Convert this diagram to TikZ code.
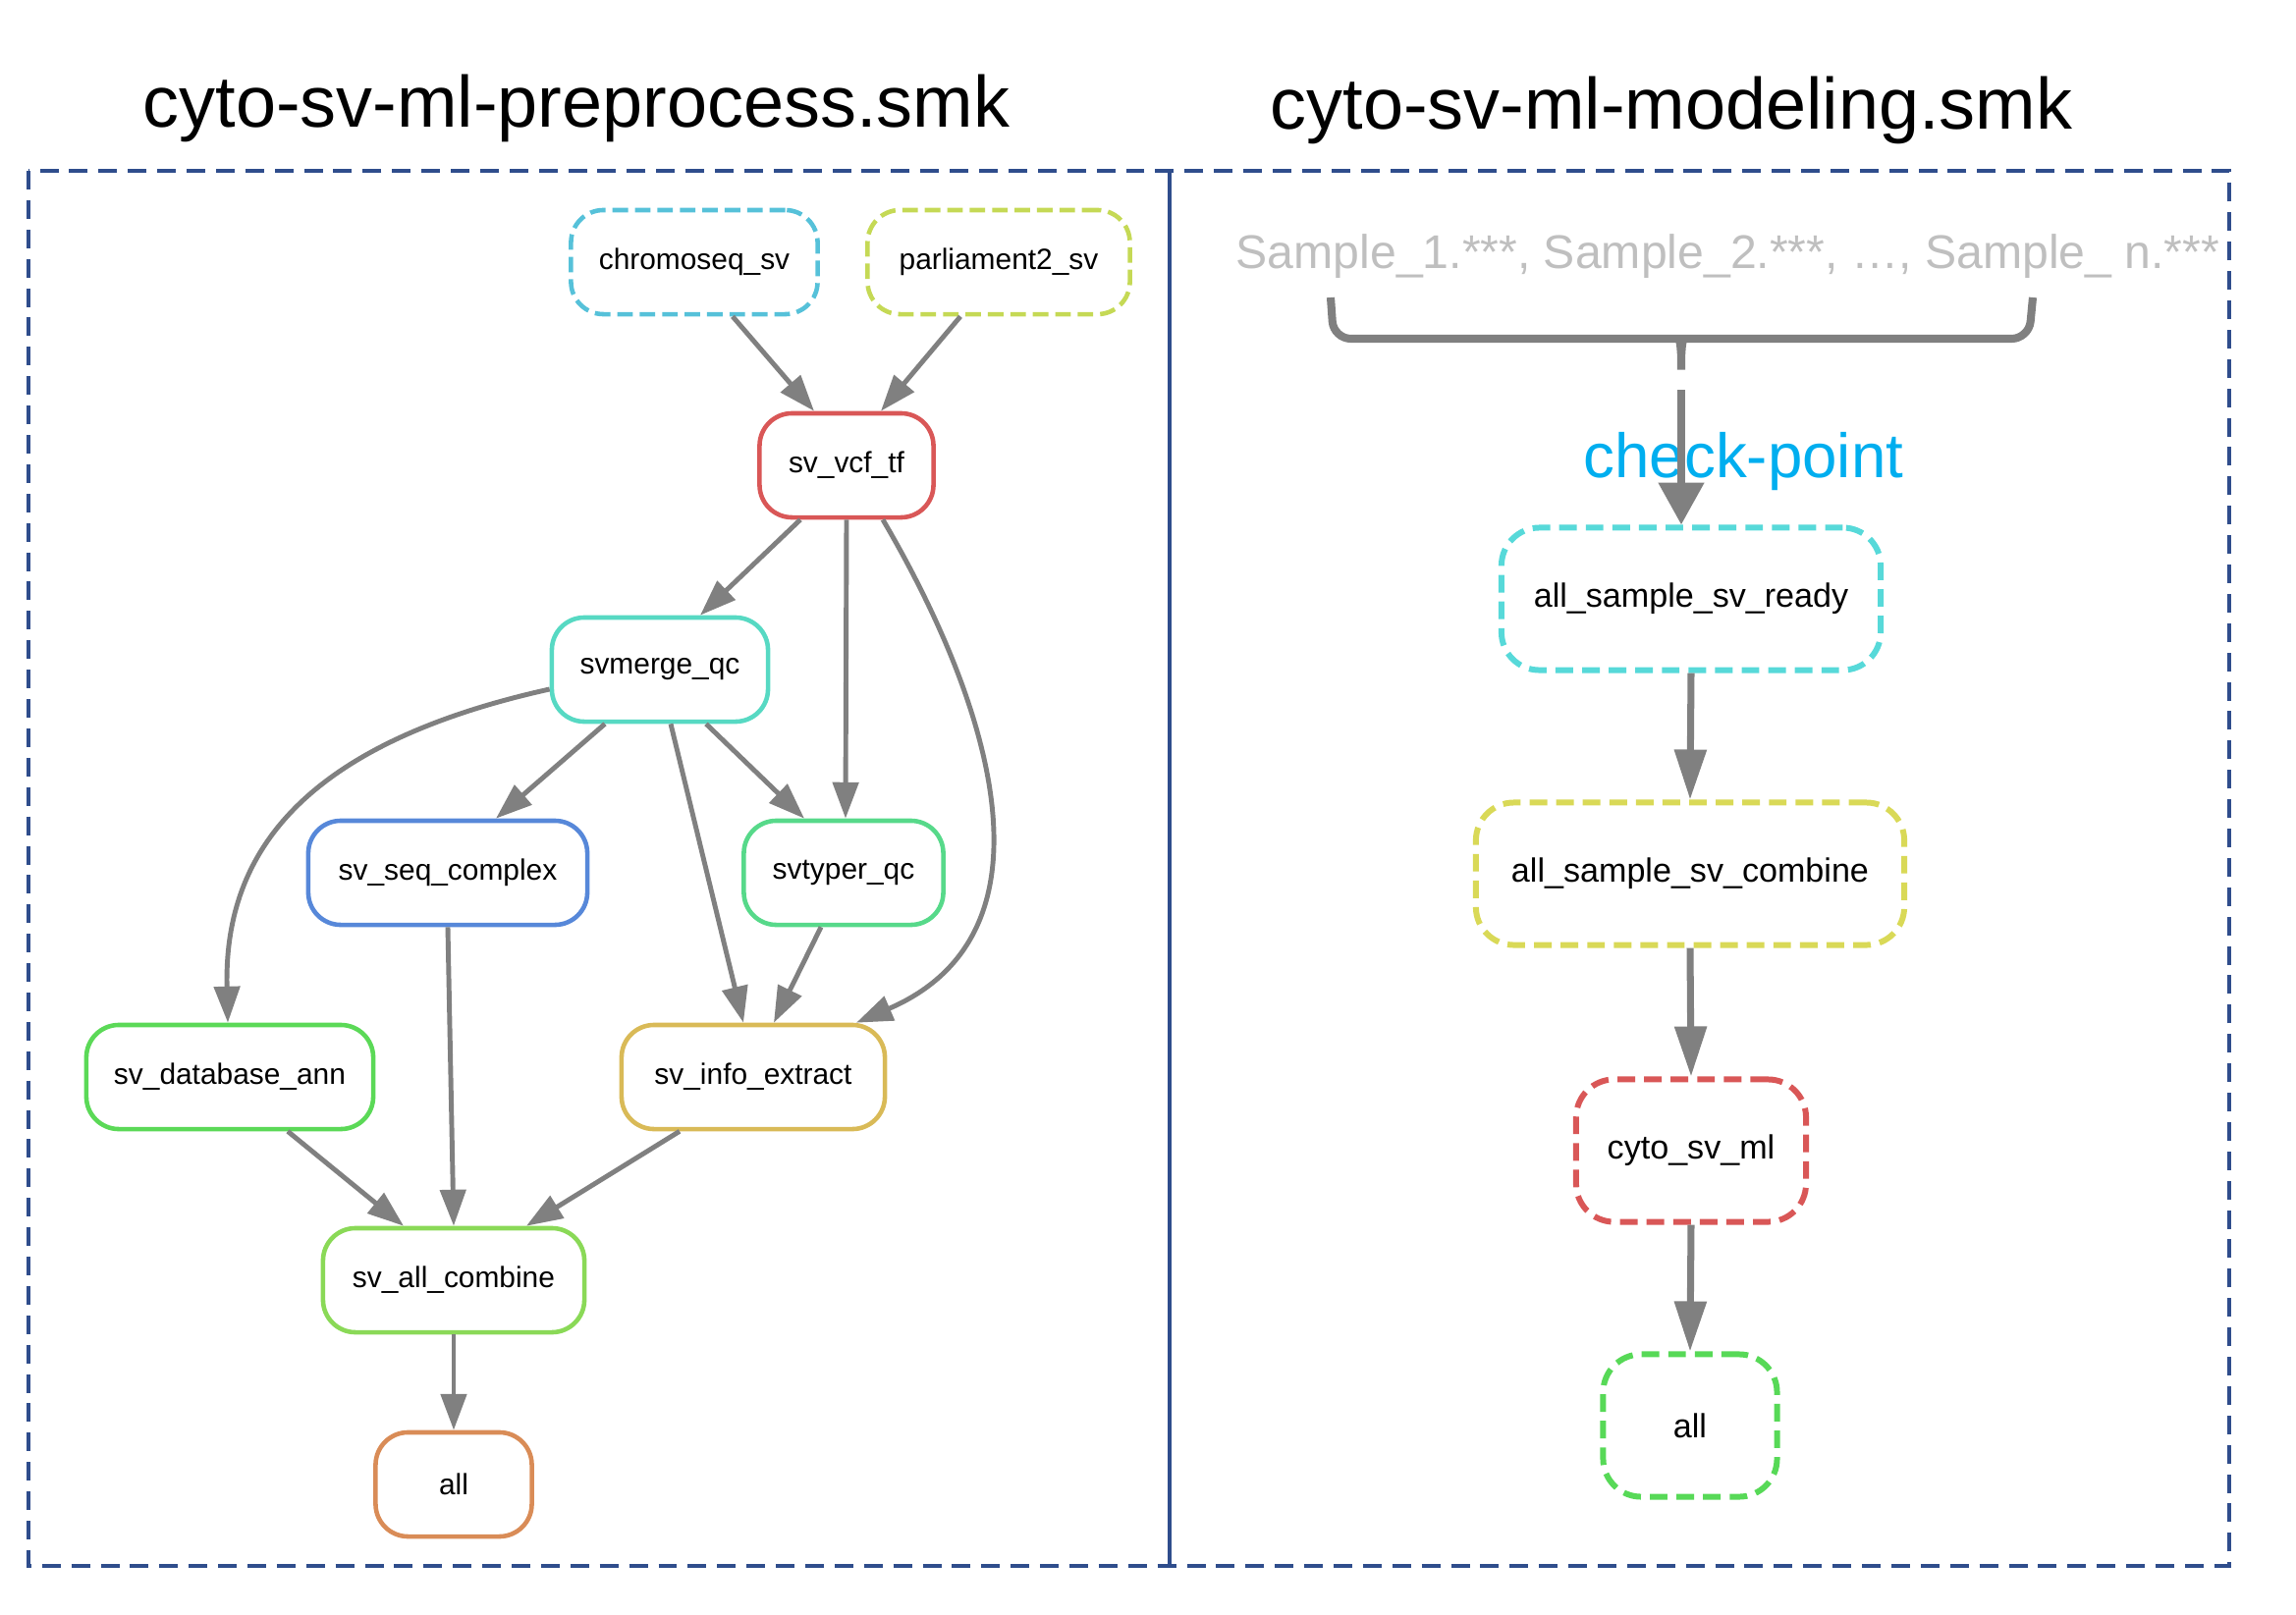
\documentclass[tikz,border=0pt]{standalone}
\usepackage{fontspec}
\setmainfont{Liberation Sans}
\usepackage{tikz}
\usetikzlibrary{arrows.meta,calc,shapes}
\usepackage{xcolor}
\definecolor{boxblue}{HTML}{2F4D8C}
\definecolor{cchromo}{HTML}{56C1D9}
\definecolor{cparl}{HTML}{C5D955}
\definecolor{cvcf}{HTML}{D95757}
\definecolor{cmerge}{HTML}{57D9C3}
\definecolor{cseq}{HTML}{5788D9}
\definecolor{ctyper}{HTML}{57D98A}
\definecolor{cdb}{HTML}{5BD957}
\definecolor{cinfo}{HTML}{D9BA57}
\definecolor{ccomb}{HTML}{8AD957}
\definecolor{call}{HTML}{D98C57}
\definecolor{cready}{HTML}{57D9D9}
\definecolor{cjoin}{HTML}{D9D957}
\definecolor{ccyto}{HTML}{D95757}
\definecolor{cend}{HTML}{57D957}
\definecolor{cpoint}{HTML}{00AEEF}
\begin{document}
\begin{tikzpicture}[-, x=0.01cm, y=-0.01cm, main node/.style={rectangle, rounded corners=9.4pt, draw, line width=1.3pt, inner sep=0pt, minimum height=1.06cm, font=\fontsize{8.5}{10}\selectfont}, dash node/.style={main node, dash pattern=on 4.5pt off 2pt}, job node/.style={rectangle, rounded corners=11pt, draw, line width=1.7pt, dash pattern=on 5.1pt off 2.6pt, inner sep=0pt, minimum height=1.45cm, font=\fontsize{9.7}{11}\selectfont}, edge line/.style={draw=gray, fill=gray, line width=1.4pt, -{Triangle[length=10.5pt,width=7.4pt]}}, job line/.style={draw=gray, fill=gray, line width=2pt, -{Triangle[length=14.5pt,width=9pt]}}, title/.style={anchor=base, inner sep=0pt, font=\fontsize{21}{24}\selectfont}]
\useasboundingbox (0,0) rectangle (2338,1645);
\node[title] (t1) at (587,129) {cyto-sv-ml-preprocess.smk};
\node[title] (t2) at (1702,131) {cyto-sv-ml-modeling.smk};
\draw[boxblue, line width=1.1pt, dash pattern=on 5.4pt off 3.1pt] (29,174) rectangle (2270,1595);
\draw[boxblue, line width=1.1pt] (1191,174) -- (1191,1595);
\node[dash node, draw=cchromo, minimum width=2.51cm] (1) at (707,267) {chromoseq\_sv};
\node[dash node, draw=cparl, minimum width=2.67cm] (2) at (1017,267) {parliament2\_sv};
\node[main node, draw=cvcf, minimum width=1.77cm] (3) at (862,474) {sv\_vcf\_tf};
\node[main node, draw=cmerge, minimum width=2.20cm] (4) at (672,682) {svmerge\_qc};
\node[main node, draw=cseq, minimum width=2.84cm] (5) at (456,889) {sv\_seq\_complex};
\node[main node, draw=ctyper, minimum width=2.03cm] (6) at (859,889) {svtyper\_qc};
\node[main node, draw=cdb, minimum width=2.92cm] (7) at (234,1097) {sv\_database\_ann};
\node[main node, draw=cinfo, minimum width=2.68cm] (8) at (767,1097) {sv\_info\_extract};
\node[main node, draw=ccomb, minimum width=2.66cm] (9) at (462,1304) {sv\_all\_combine};
\node[main node, draw=call, minimum width=1.59cm] (10) at (462,1512) {all};
\path[every edge/.style={edge line}]
($(1.south)+(39,0)$) edge ($(3.north)+(-33,0)$)
($(2.south)+(-39,0)$) edge ($(3.north)+(35,0)$)
($(3.south)+(-47,0)$) edge ($(4.north)+(41,0)$)
(3.south) edge ($(6.north)+(2,0)$)
($(4.south)+(-56,0)$) edge ($(5.north)+(49,0)$)
($(4.south)+(47,0)$) edge ($(6.north)+(-40,0)$)
($(4.south)+(11,0)$) edge ($(8.north)+(-10,0)$)
($(6.south)+(-23,0)$) edge ($(8.north)+(21,0)$)
(5.south) edge (9.north)
($(7.south)+(59,0)$) edge ($(9.north)+(-51,0)$)
($(8.south)+(-75,0)$) edge ($(9.north)+(74,0)$)
(9.south) edge (10.north);
\draw[edge line, fill=none] ($(3.south)+(37,0)$) .. controls +(101,172) and +(218,-94) .. ($(8.north)+(105,0)$);
\draw[edge line, fill=none] ($(4.west)+(0,20)$) .. controls +(-262,58) and +(-4,-164) .. ($(7.north)+(-2,0)$);
\node[anchor=base west, inner sep=0pt, text=lightgray, font=\fontsize{13.7}{16}\selectfont] (s) at (1258,273) {Sample\_1.***, Sample\_2.***, \ldots, Sample\_ n.***};
\draw[gray, line width=2.3pt, rounded corners=5pt] (1355,303) -- (1358,345) -- (1692,345) .. controls (1710,345) and (1712,352) .. (1712,387) .. controls (1712,352) and (1714,345) .. (1732,345) -- (2066,345) -- (2070,303);
\node[anchor=base west, inner sep=0pt, text=cpoint, font=\fontsize{18.1}{20}\selectfont] (cp) at (1612,486) {check-point};
\node[job node, draw=cready, minimum width=3.86cm] (11) at (1722,610) {all\_sample\_sv\_ready};
\node[job node, draw=cjoin, minimum width=4.36cm] (12) at (1721,890) {all\_sample\_sv\_combine};
\node[job node, draw=ccyto, minimum width=2.34cm] (13) at (1722,1172) {cyto\_sv\_ml};
\node[job node, draw=cend, minimum width=1.77cm] (14) at (1721,1452) {all};
\coordinate (b) at (1712,397);
\draw[gray, line width=2.3pt, -{Triangle[length=12.2pt,width=12.8pt]}] (b) -- ($(11.north)+(-10,0)$);
\path[every edge/.style={job line}] (11.south) edge (12.north) (12.south) edge (13.north) (13.south) edge (14.north);
\end{tikzpicture}
\end{document}
